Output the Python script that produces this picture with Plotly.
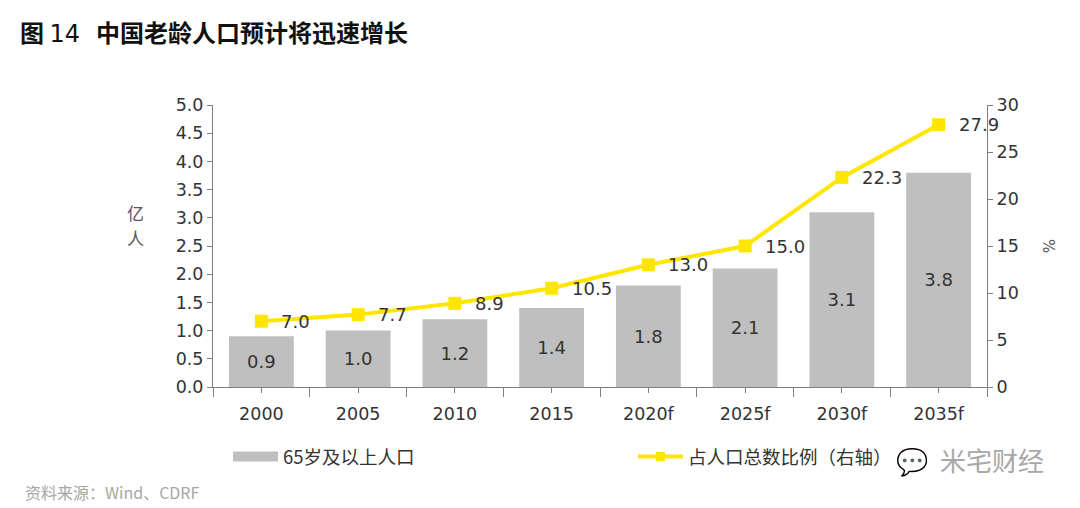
import plotly.graph_objects as go

categories = ["2000", "2005", "2010", "2015", "2020f", "2025f", "2030f", "2035f"]
population = [0.9, 1.0, 1.2, 1.4, 1.8, 2.1, 3.1, 3.8]
share_pct = [7.0, 7.7, 8.9, 10.5, 13.0, 15.0, 22.3, 27.9]
y1_ticks = [0.0, 0.5, 1.0, 1.5, 2.0, 2.5, 3.0, 3.5, 4.0, 4.5, 5.0]
bar_name = "65岁及以上人口"
line_name = "占人口总数比例（右轴）"

FONT = "DejaVu Sans, Noto Sans CJK SC, sans-serif"
CJK = "Noto Sans CJK SC, sans-serif"
AX = "#7f7f7f"
TXT = "#333333"
YEL = "#FFE600"
NUM = 17.5

# plot area in reference pixels: x 213..987, y 105..387
PL, PR, PT, PB = 213, 987, 105, 387
PW, PH = PR - PL, PB - PT
def px(x):
    return (x - PL) / PW
def py(y):
    return (PB - y) / PH

xs = list(range(len(categories)))

fig = go.Figure()
fig.add_trace(go.Bar(
    x=xs, y=population, name=bar_name, showlegend=False,
    marker=dict(color="#BFBFBF", line=dict(width=0)),
    text=[f"{v:.1f}" for v in population], textposition="inside",
    insidetextanchor="middle", textfont=dict(family=FONT, size=18, color=TXT),
    width=0.67, yaxis="y",
))
fig.add_trace(go.Scatter(
    x=xs, y=share_pct, name=line_name, mode="lines+markers", showlegend=False,
    line=dict(color=YEL, width=4),
    marker=dict(symbol="square", size=13, color=YEL),
    yaxis="y2", cliponaxis=False,
))
# legend-only swatches (wide grey block, thin line with small square)
fig.add_trace(go.Scatter(
    x=[None], y=[None], mode="lines", name=bar_name,
    line=dict(color="#BFBFBF", width=12), legend="legend",
))
fig.add_trace(go.Scatter(
    x=[None], y=[None], mode="lines+markers", name=line_name,
    line=dict(color=YEL, width=4), marker=dict(symbol="square", size=9, color=YEL),
    legend="legend2", yaxis="y2",
))
for i, v in zip(xs, share_pct):
    fig.add_annotation(x=i, y=v, xref="x", yref="y2", text=f"{v:.1f}",
                       showarrow=False, xanchor="left", yanchor="middle", xshift=18,
                       font=dict(family=FONT, size=18, color=TXT))

leg_common = dict(orientation="h", yanchor="middle", xanchor="left", itemwidth=45,
                  font=dict(family=CJK, size=18.5, color=TXT), bgcolor="rgba(0,0,0,0)")

fig.update_layout(
    width=1072, height=500,
    margin=dict(l=PL - 8, r=1072 - (PR - 8), t=PT - 8, b=500 - (PB - 8)),
    paper_bgcolor="white", plot_bgcolor="white",
    font=dict(family=FONT, color=TXT, size=16),
    showlegend=True,
    legend=dict(x=px(228), y=py(457), **leg_common),
    legend2=dict(x=px(633), y=py(457), **leg_common),
    xaxis=dict(
        range=[-0.5, len(categories) - 0.5], tickvals=xs, ticktext=categories,
        showgrid=False, zeroline=False, showline=True, linecolor=AX, linewidth=1,
        ticks="outside", ticklen=5, tickcolor=AX, ticklabelstandoff=6,
        minor=dict(tick0=-0.5, dtick=1, ticks="outside", ticklen=9, tickcolor=AX),
        tickfont=dict(family=FONT, size=NUM, color=TXT),
    ),
    yaxis=dict(
        range=[0, 5], tickvals=y1_ticks, ticktext=[f"{v:.1f}" for v in y1_ticks],
        showgrid=False, zeroline=False, showline=True, linecolor=AX, linewidth=1,
        ticks="outside", ticklen=5, tickcolor=AX,
        tickfont=dict(family=FONT, size=NUM, color=TXT),
    ),
    yaxis2=dict(
        range=[0, 30], dtick=5, overlaying="y", side="right",
        showgrid=False, zeroline=False, showline=True, linecolor=AX, linewidth=1,
        ticks="outside", ticklen=5, tickcolor=AX,
        tickfont=dict(family=FONT, size=NUM, color=TXT),
    ),
)

title_txt = ("<b>图</b>\u00a0<span style='font-family:DejaVu Sans'>14</span>"
             "\u00a0\u00a0\u00a0<b>中国老龄人口预计将迅速增长</b>")
fig.add_annotation(text=title_txt, xref="paper", yref="paper",
                   x=px(18), y=py(32), xanchor="left", yanchor="middle",
                   showarrow=False, font=dict(family=CJK, size=24, color="#111111"))
fig.add_annotation(text="资料来源：Wind、CDRF", xref="paper", yref="paper",
                   x=px(23), y=py(492), xanchor="left", yanchor="middle",
                   showarrow=False, font=dict(family=CJK, size=16, color="#a6a6a6"))
fig.add_annotation(text="亿", xref="paper", yref="paper",
                   x=px(135), y=py(212), xanchor="center", yanchor="middle",
                   showarrow=False, font=dict(family=CJK, size=17, color="#555555"))
fig.add_annotation(text="人", xref="paper", yref="paper",
                   x=px(135), y=py(237), xanchor="center", yanchor="middle",
                   showarrow=False, font=dict(family=CJK, size=17, color="#555555"))
fig.add_annotation(text="%", xref="paper", yref="paper", textangle=90,
                   x=px(1048), y=py(246), xanchor="center", yanchor="middle",
                   showarrow=False, font=dict(family=FONT, size=15, color="#555555"))
# watermark
fig.add_annotation(text="💬", xref="paper", yref="paper",
                   x=px(912), y=py(460), xanchor="center", yanchor="middle",
                   showarrow=False, bgcolor="white",
                   font=dict(family=CJK, size=26, color="#9a9a9a"))
fig.add_annotation(text="米宅财经", xref="paper", yref="paper",
                   x=px(1046), y=py(460), xanchor="right", yanchor="middle",
                   showarrow=False,
                   font=dict(family=CJK, size=26, color="#a8a8a8"))

fig.write_html("out.html")
